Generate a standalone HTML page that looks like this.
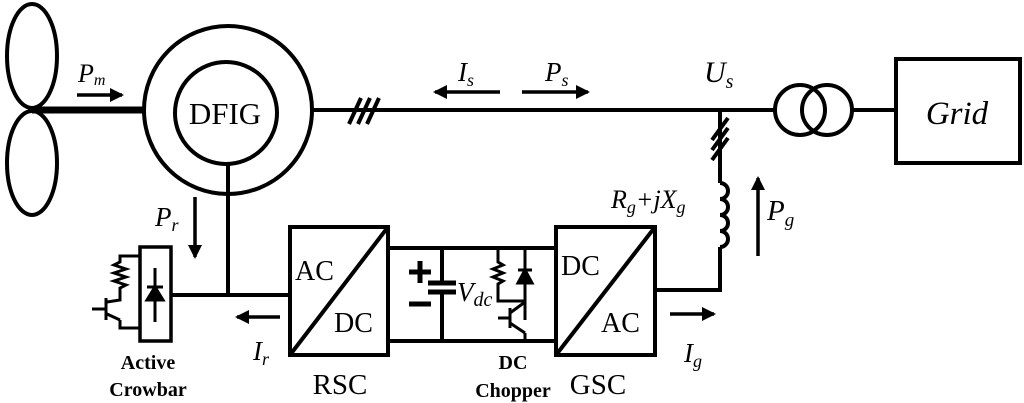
<!DOCTYPE html>
<html><head><meta charset="utf-8"><style>
html,body{margin:0;padding:0;background:#fff;}
svg{display:block;}
text{font-family:"Liberation Serif",serif;fill:#000;}
</style></head><body>
<svg width="1024" height="403" viewBox="0 0 1024 403" xmlns="http://www.w3.org/2000/svg">
<defs>
<marker id="ah" markerWidth="14" markerHeight="14" refX="12" refY="7" orient="auto" markerUnits="userSpaceOnUse">
<path d="M0,0 L14,7 L0,14 Z" fill="#000"/>
</marker>
</defs>
<g fill="none" stroke="#000" stroke-width="4">
<ellipse cx="32" cy="56" rx="25" ry="52"/>
<ellipse cx="32" cy="163" rx="25" ry="52"/>
<line x1="32" y1="110" x2="143" y2="110" stroke-width="7"/>
<circle cx="228" cy="110" r="84"/>
<circle cx="226" cy="113" r="51"/>
<line x1="228" y1="164" x2="228" y2="296"/>
<line x1="171" y1="295" x2="290" y2="295"/>
<line x1="312" y1="110" x2="776" y2="110"/>
<line x1="349" y1="124" x2="361" y2="98"/>
<line x1="358" y1="124" x2="370" y2="98"/>
<line x1="367" y1="124" x2="379" y2="98"/>
<circle cx="800" cy="110" r="25"/>
<circle cx="827" cy="110" r="25"/>
<line x1="852" y1="110" x2="896" y2="110"/>
<rect x="896" y="59" width="124" height="104"/>
<line x1="720" y1="110" x2="720" y2="183"/>
<line x1="712" y1="140" x2="728" y2="118"/>
<line x1="712" y1="150" x2="728" y2="128"/>
<line x1="712" y1="160" x2="728" y2="138"/>
<path d="M720,183 a8,8 0 0 1 0,16 a8,8 0 0 1 0,16 a8,8 0 0 1 0,16 a8,8 0 0 1 0,16"/>
<line x1="720" y1="247" x2="720" y2="292"/>
<line x1="655" y1="290" x2="722" y2="290"/>
<rect x="290" y="227" width="98" height="128"/>
<line x1="290" y1="355" x2="388" y2="227"/>
<rect x="556" y="227" width="99" height="128"/>
<line x1="556" y1="355" x2="655" y2="227"/>
<line x1="388" y1="248" x2="556" y2="248"/>
<line x1="388" y1="341" x2="556" y2="341"/>
<line x1="442" y1="248" x2="442" y2="283"/>
<line x1="442" y1="292" x2="442" y2="341"/>
<line x1="428" y1="283" x2="456" y2="283" stroke-width="5"/>
<line x1="428" y1="292" x2="456" y2="292" stroke-width="5"/>
<line x1="409" y1="272" x2="431" y2="272" stroke-width="5"/>
<line x1="420" y1="261" x2="420" y2="283" stroke-width="5"/>
<line x1="409" y1="304" x2="431" y2="304" stroke-width="5"/>
<g stroke-width="3">
<path d="M498,248 V262 l5,3 l-10,4 l10,4 l-10,4 l10,4 l-5,3 V301 H525"/>
<line x1="525" y1="248" x2="525" y2="320"/>
<path d="M518,283 L532,283 L525,270 Z" fill="#000"/>
<line x1="518" y1="270" x2="532" y2="270"/>
<line x1="498" y1="318" x2="510" y2="318"/>
<line x1="510" y1="308" x2="510" y2="328"/>
<line x1="510" y1="313" x2="525" y2="302"/>
<line x1="510" y1="323" x2="525" y2="333"/>
<line x1="525" y1="333" x2="525" y2="341"/>
</g>
<rect x="140" y="247" width="31" height="94" stroke-width="3.5"/>
<g stroke-width="3">
<line x1="155" y1="268" x2="155" y2="322"/>
<path d="M147,300 L163,300 L155,287 Z" fill="#000"/>
<line x1="147" y1="287" x2="163" y2="287"/>
<path d="M140,256 H120 V262 l-6,3 l12,4 l-12,4 l12,4 l-12,4 l12,4 l-6,3 V300 L107,302"/>
<line x1="92" y1="309" x2="105" y2="309"/>
<line x1="106" y1="298" x2="106" y2="320"/>
<line x1="107" y1="314" x2="120" y2="320"/>
<path d="M120,320 V328 H140"/>
</g>
</g>
<g stroke="#000" stroke-width="3.5" fill="none">
<line x1="77" y1="95" x2="122" y2="95" marker-end="url(#ah)"/>
<line x1="195" y1="197" x2="195" y2="257" marker-end="url(#ah)"/>
<line x1="280" y1="317" x2="237" y2="317" marker-end="url(#ah)"/>
<line x1="500" y1="92" x2="435" y2="92" marker-end="url(#ah)"/>
<line x1="522" y1="92" x2="588" y2="92" marker-end="url(#ah)"/>
<line x1="670" y1="314" x2="714" y2="314" marker-end="url(#ah)"/>
<line x1="758" y1="256" x2="758" y2="178" marker-end="url(#ah)"/>
</g>
<text x="225" y="124" font-size="31" text-anchor="middle">DFIG</text>
<text x="78" y="82" font-size="26" font-style="italic">P<tspan font-size="16" dy="3">m</tspan></text>
<text x="155" y="226" font-size="27" font-style="italic">P<tspan font-size="18" dy="5">r</tspan></text>
<text x="253" y="360" font-size="27" font-style="italic">I<tspan font-size="18" dy="5">r</tspan></text>
<text x="458" y="81" font-size="27" font-style="italic">I<tspan font-size="18" dy="5">s</tspan></text>
<text x="545" y="81" font-size="27" font-style="italic">P<tspan font-size="18" dy="5">s</tspan></text>
<text x="704" y="82" font-size="30" font-style="italic">U<tspan font-size="20" dy="6">s</tspan></text>
<text x="957" y="124" font-size="33" font-style="italic" text-anchor="middle">Grid</text>
<text x="611" y="208" font-size="26" font-style="italic">R<tspan font-size="18" dy="5">g</tspan><tspan dy="-5">+</tspan><tspan>jX</tspan><tspan font-size="18" dy="5">g</tspan></text>
<text x="767" y="220" font-size="29" font-style="italic">P<tspan font-size="19" dy="6">g</tspan></text>
<text x="684" y="362" font-size="27" font-style="italic">I<tspan font-size="18" dy="5">g</tspan></text>
<text x="457" y="301" font-size="27" font-style="italic">V<tspan font-size="20" dy="5">dc</tspan></text>
<text x="295" y="280" font-size="28">AC</text>
<text x="334" y="332" font-size="28">DC</text>
<text x="340" y="394" font-size="29" text-anchor="middle">RSC</text>
<text x="561" y="275" font-size="28">DC</text>
<text x="601" y="332" font-size="28">AC</text>
<text x="598" y="394" font-size="29" text-anchor="middle">GSC</text>
<text x="148" y="369" font-size="20" font-weight="bold" text-anchor="middle">Active</text>
<text x="148" y="396" font-size="20" font-weight="bold" text-anchor="middle">Crowbar</text>
<text x="513" y="369" font-size="20" font-weight="bold" text-anchor="middle">DC</text>
<text x="513" y="397" font-size="20" font-weight="bold" text-anchor="middle">Chopper</text>
</svg>
</body></html>
